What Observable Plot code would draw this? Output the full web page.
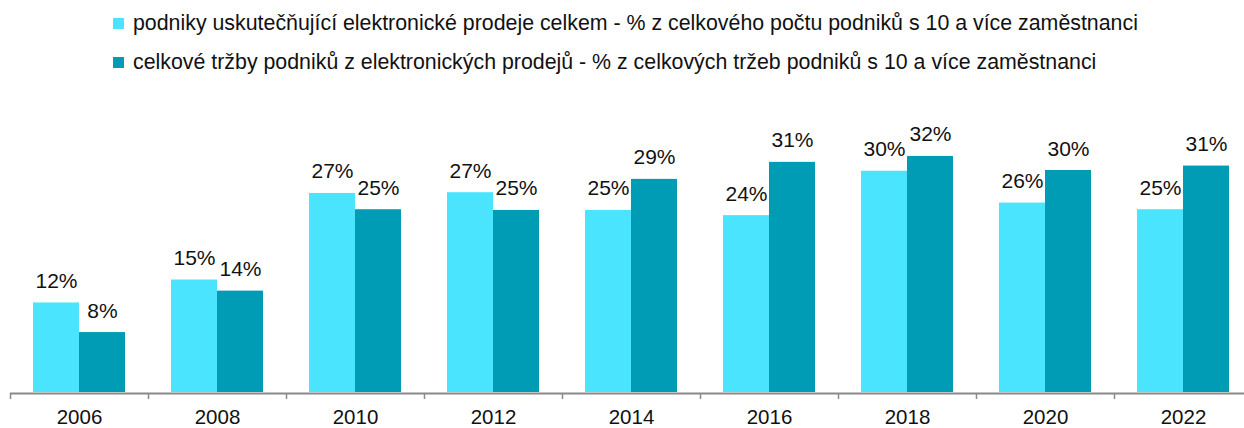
<!DOCTYPE html>
<html>
<head>
<meta charset="utf-8">
<script src="https://cdn.jsdelivr.net/npm/d3@7"></script>
<script src="https://cdn.jsdelivr.net/npm/@observablehq/plot@0.6"></script>
<style>
  html, body { margin: 0; padding: 0; background: #fff; }
  #wrap { position: relative; width: 1244px; height: 428px; overflow: hidden; font-family: "Liberation Sans", Arial, sans-serif; }
  #legend { position: absolute; left: 0; top: 0; width: 1244px; height: 80px; }
  .item { position: absolute; left: 113px; height: 24px; display: flex; align-items: center; white-space: nowrap; font-size: 21.35px; color: #111; }
  .sw { width: 11px; height: 11px; margin-right: 9px; flex: none; }
  #chart { position: absolute; left: 0; top: 80px; }
</style>
</head>
<body>
<div id="wrap">
  <div id="legend"></div>
  <div id="chart"></div>
</div>
<script>
const years = ["2006", "2008", "2010", "2012", "2014", "2016", "2018", "2020", "2022"];
const seriesNames = [
  "podniky uskutečňující elektronické prodeje celkem - % z celkového počtu podniků s 10 a více zaměstnanci",
  "celkové tržby podniků z elektronických prodejů - % z celkových tržeb podniků s 10 a více zaměstnanci"
];
const shareFirms = [12.1, 15.2, 26.9, 27.0, 24.6, 23.9, 29.9, 25.6, 24.7];
const shareSales = [8.1, 13.7, 24.7, 24.6, 28.8, 31.1, 31.9, 30.0, 30.6];
const seriesColors = ["#4be4ff", "#009cb5"];

const firms = years.map((y, i) => ({year: y, value: shareFirms[i]}));
const sales = years.map((y, i) => ({year: y, value: shareSales[i]}));

// legend
const legend = document.getElementById("legend");
seriesNames.forEach((name, i) => {
  const row = document.createElement("div");
  row.className = "item";
  row.style.top = (i === 0 ? 11 : 50) + "px";
  const sw = document.createElement("span");
  sw.className = "sw";
  sw.style.background = seriesColors[i];
  const t = document.createElement("span");
  t.textContent = name;
  row.appendChild(sw);
  row.appendChild(t);
  legend.appendChild(row);
});

const fmt = v => Math.round(v) + "%";

const chart = Plot.plot({
  width: 1244,
  height: 348,
  marginTop: 16,
  marginBottom: 36,
  marginLeft: 10,
  marginRight: 0,
  style: {fontFamily: "'Liberation Sans', Arial, sans-serif", fontSize: "20px", color: "#111", background: "transparent"},
  x: {type: "band", domain: years, range: [10, 1252], paddingInner: 1/3, paddingOuter: 1/6, round: false, label: null},
  y: {domain: [0, 40], axis: null},
  marks: [
    Plot.barY(firms, {x: "year", y: "value", fill: seriesColors[0], insetRight: 46, insetLeft: 0}),
    Plot.barY(sales, {x: "year", y: "value", fill: seriesColors[1], insetLeft: 46, insetRight: 0}),
    Plot.text(firms, {x: "year", y: "value", text: d => fmt(d.value), dx: -23, dy: -15, lineAnchor: "bottom", fill: "#111", fontSize: 21}),
    Plot.text(sales, {x: "year", y: "value", text: d => fmt(d.value), dx: 23, dy: -15, lineAnchor: "bottom", fill: "#111", fontSize: 21}),
    Plot.ruleY([0], {stroke: "#8a8a8a", strokeWidth: 2.2, dy: 1}),
    Plot.axisX(years, {tickSize: 6, tickFormat: () => "", dx: -69, dy: 1, stroke: "#8a8a8a", strokeWidth: 1.5, label: null}),
    Plot.axisX(years, {tickSize: 0, tickPadding: 17, fontSize: 20.5, fill: "#111", label: null})
  ]
});
document.getElementById("chart").appendChild(chart);
</script>
</body>
</html>
